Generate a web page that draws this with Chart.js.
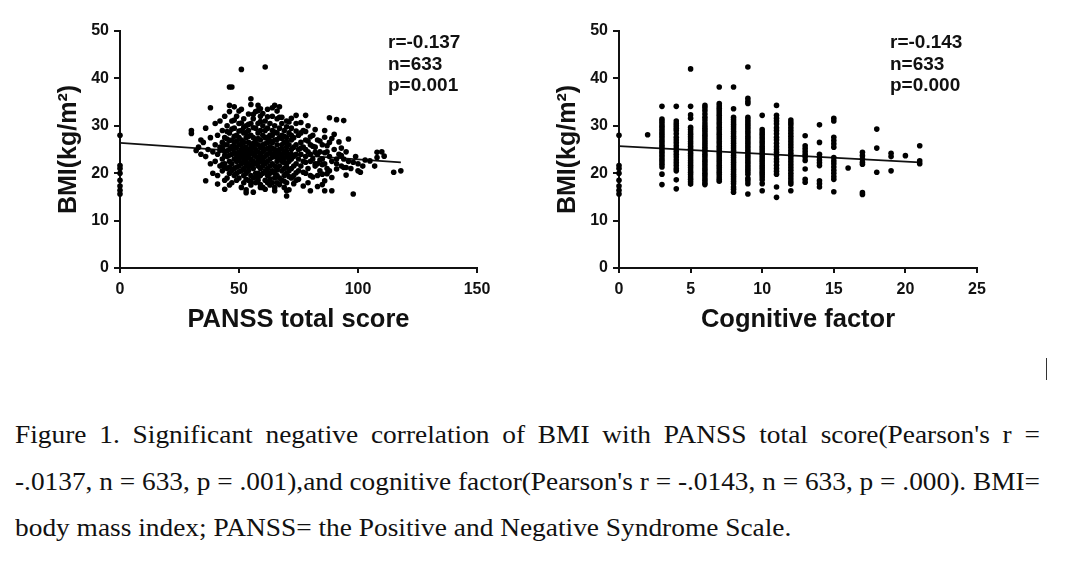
<!DOCTYPE html>
<html>
<head>
<meta charset="utf-8">
<script src="https://cdn.jsdelivr.net/npm/chart.js@4.4.0/dist/chart.umd.min.js"></script>
<style>
    body {
        margin: 0;
        width: 1080px;
        height: 569px;
        background: #fff;
        position: relative;
        overflow: hidden;
        font-family: "Liberation Sans", Arial, sans-serif;
    }
    .boxChart { position: absolute; top: 0; }
    .stats {
        position: absolute;
        top: 31px;
        font-weight: bold;
        font-size: 19px;
        line-height: 21.7px;
        color: #111;
    }
    .caption {
        position: absolute;
        left: 15px;
        width: 936px;
        font-family: "Liberation Serif", "Times New Roman", serif;
        font-size: 25px;
        line-height: 30px;
        color: #111;
        white-space: nowrap;
        transform: scaleX(1.095);
        transform-origin: left top;
    }
    .just { text-align: justify; text-align-last: justify; white-space: normal; }
    #linhaDois { width: auto; transform: none; }
    .cursor { position: absolute; left: 1046px; top: 358px; width: 1px; height: 22px; background: #333; }
</style>
</head>
<body>

<canvas class="boxChart" id="graficoPanss" width="540" height="340" style="left:0"></canvas>
<canvas class="boxChart" id="graficoCog" width="540" height="340" style="left:540px"></canvas>

<div class="stats" style="left:388px">r=-0.137<br>n=633<br>p=0.001</div>
<div class="stats" style="left:890px">r=-0.143<br>n=633<br>p=0.000</div>

<div class="cursor"></div>

<div class="caption just" style="top:420px">Figure 1. Significant negative correlation of BMI with PANSS total score(Pearson's r =</div>
<div class="caption" id="linhaDois" style="top:467px">-.0137, n = 633, p = .001),and cognitive factor(Pearson's r = -.0143, n = 633, p = .000). BMI=</div>
<div class="caption" style="top:513px">body mass index; PANSS= the Positive and Negative Syndrome Scale.</div>

<script>
// Grafico 1: BMI x PANSS total score
const panssScore = [
    0, 0, 0, 0, 0, 0, 0, 0,
    51, 61, 46, 47, 55, 58, 59, 46, 38, 65,
    74, 78, 88, 91, 94, 30, 30, 32, 36, 41,
    44, 53, 59, 70, 70, 80, 86, 89, 98, 118,
    115, 108, 108, 107, 101, 98, 95, 93, 94, 91,
    89, 85, 86, 82, 83, 103, 110, 111, 100, 105,
    33, 34, 34, 35, 36, 36, 37, 38, 38, 39,
    39, 40, 40, 40, 41, 41, 41, 42, 42, 42,
    43, 43, 43, 43, 44, 44, 44, 44, 44, 45,
    45, 45, 45, 45, 46, 46, 46, 46, 46, 46,
    47, 47, 47, 47, 47, 47, 48, 48, 48, 48,
    48, 48, 49, 49, 49, 49, 49, 49, 49, 50,
    50, 50, 50, 50, 50, 50, 51, 51, 51, 51,
    51, 51, 51, 51, 52, 52, 52, 52, 52, 52,
    52, 52, 53, 53, 53, 53, 53, 53, 53, 53,
    54, 54, 54, 54, 54, 54, 54, 54, 55, 55,
    55, 55, 55, 55, 55, 55, 55, 56, 56, 56,
    56, 56, 56, 56, 56, 57, 57, 57, 57, 57,
    57, 57, 57, 58, 58, 58, 58, 58, 58, 58,
    58, 59, 59, 59, 59, 59, 59, 59, 59, 60,
    60, 60, 60, 60, 60, 60, 60, 61, 61, 61,
    61, 61, 61, 61, 62, 62, 62, 62, 62, 62,
    62, 62, 63, 63, 63, 63, 63, 63, 63, 63,
    64, 64, 64, 64, 64, 64, 64, 65, 65, 65,
    65, 65, 65, 65, 65, 66, 66, 66, 66, 66,
    66, 66, 66, 67, 67, 67, 67, 67, 67, 67,
    68, 68, 68, 68, 68, 68, 68, 69, 69, 69,
    69, 69, 69, 69, 70, 70, 70, 70, 70, 70,
    70, 71, 71, 71, 71, 71, 71, 72, 72, 72,
    72, 72, 72, 73, 73, 73, 73, 73, 74, 74,
    74, 74, 74, 75, 75, 75, 75, 76, 76, 76,
    77, 77, 77, 78, 78, 78, 79, 79, 79, 80,
    80, 80, 81, 81, 82, 82, 83, 83, 84, 84,
    85, 85, 86, 86, 87, 87, 88, 88, 89, 90,
    91, 92, 93, 94, 95, 96, 97, 99, 100, 102,
    42, 43, 44, 45, 46, 47, 48, 49, 50, 51,
    52, 53, 54, 55, 56, 57, 58, 59, 60, 61,
    62, 63, 64, 65, 66, 67, 68, 69, 70, 71,
    44, 46, 48, 50, 52, 54, 56, 58, 60, 62,
    64, 66, 68, 70, 72, 45, 49, 53, 57, 61,
    65, 69, 43, 47, 51, 55, 59, 63, 67, 71,
    76, 78, 80, 82, 84, 86, 88, 90, 92, 96,
    77, 79, 81, 83, 85, 87, 89, 91, 93, 95,
    44, 46, 48, 50, 52, 54, 56, 58, 60, 62,
    64, 66, 68, 70, 72, 74, 76, 78, 45, 47,
    49, 51, 53, 55, 57, 59, 61, 63, 65, 67,
    69, 71, 73, 75, 77, 79, 81, 83, 85, 87,
    50, 54, 58, 62, 66, 70, 74, 78, 82, 86,
    48, 52, 56, 60, 64, 68, 72, 76, 80, 84
];
const panssBmi = [
    28.0, 21.6, 21.0, 20.0, 18.5, 17.3, 16.4, 15.6,
    41.9, 42.4, 38.2, 38.2, 35.7, 34.3, 33.6, 34.3, 33.8, 34.3,
    32.2, 32.2, 31.7, 31.3, 31.1, 29.0, 28.4, 24.8, 18.4, 17.7,
    16.6, 15.9, 17.0, 15.2, 16.3, 16.3, 16.3, 16.3, 15.6, 20.5,
    20.2, 24.4, 23.3, 21.5, 20.2, 22.3, 21.2, 23.7, 21.2, 20.9,
    19.1, 19.8, 18.4, 22.0, 24.0, 22.8, 24.5, 23.6, 20.5, 22.6,
    25.5, 27.0, 24.0, 26.5, 23.5, 29.5, 25.0, 22.0, 27.5, 24.5,
    20.0, 30.5, 26.0, 22.5, 28.0, 24.0, 19.5, 31.0, 25.5, 21.5,
    29.0, 26.5, 23.0, 20.5, 32.0, 27.5, 24.5, 22.0, 18.5, 30.0,
    26.0, 23.5, 21.0, 19.0, 33.0, 28.5, 25.0, 22.5, 20.0, 17.5,
    31.0, 27.0, 24.0, 22.0, 20.5, 18.0, 29.5, 26.5, 23.0, 21.0,
    19.5, 34.0, 32.0, 28.0, 25.5, 24.0, 22.5, 20.0, 18.5, 30.5,
    27.5, 26.0, 24.5, 23.0, 21.5, 19.0, 33.5, 29.0, 27.0, 25.0,
    23.5, 22.0, 20.5, 17.0, 31.5, 28.5, 26.5, 24.0, 22.5, 21.0,
    19.5, 18.0, 30.0, 27.5, 25.5, 24.5, 23.0, 21.5, 20.0, 16.5,
    32.5, 29.0, 26.5, 25.0, 23.5, 22.0, 20.5, 18.5, 34.5, 30.5,
    28.0, 26.0, 24.5, 23.0, 21.5, 19.5, 17.5, 31.5, 27.5, 25.5,
    24.0, 22.5, 21.0, 19.0, 16.0, 33.0, 29.5, 27.0, 25.0, 23.5,
    22.0, 20.0, 18.0, 30.5, 28.5, 26.0, 24.5, 23.0, 21.5, 20.0,
    18.5, 32.0, 29.0, 27.0, 25.5, 24.0, 22.5, 21.0, 19.5, 30.0,
    28.0, 26.0, 24.5, 23.0, 21.5, 20.0, 17.0, 31.0, 27.5, 25.0,
    23.5, 22.0, 20.5, 18.5, 33.5, 29.5, 26.5, 24.0, 22.5, 21.0,
    19.5, 18.0, 30.5, 28.0, 25.5, 24.5, 23.0, 21.5, 20.0, 17.5,
    32.0, 29.0, 26.5, 24.0, 22.0, 20.5, 18.0, 30.0, 27.0, 25.0,
    23.5, 21.5, 20.0, 19.0, 17.0, 31.5, 28.5, 26.0, 24.5, 22.5,
    21.0, 19.5, 18.0, 34.0, 29.5, 27.5, 25.0, 23.0, 21.5, 19.0,
    30.5, 28.0, 26.0, 24.0, 22.5, 20.5, 18.5, 29.0, 26.5, 24.5,
    23.0, 21.0, 19.5, 17.0, 31.0, 27.5, 25.5, 23.5, 22.0, 20.0,
    18.0, 28.5, 26.0, 24.0, 22.5, 20.5, 16.5, 29.5, 27.0, 25.0,
    23.0, 21.0, 19.0, 27.5, 25.5, 23.5, 21.5, 19.5, 30.5, 26.0,
    24.0, 22.0, 18.5, 28.0, 25.0, 23.0, 20.5, 26.5, 24.0, 21.5,
    29.0, 25.5, 22.5, 27.0, 23.5, 20.0, 30.0, 24.5, 21.0, 26.0,
    22.5, 19.5, 28.0, 23.0, 25.5, 21.5, 27.0, 22.0, 24.5, 20.5,
    26.0, 23.0, 29.0, 22.0, 24.5, 21.0, 26.5, 23.5, 22.5, 25.0,
    22.0, 24.0, 21.5, 23.0, 24.5, 22.5, 21.0, 23.5, 22.0, 21.5,
    24.8, 25.2, 26.0, 27.2, 23.8, 25.6, 24.3, 26.8, 22.8, 24.2,
    25.3, 28.6, 23.9, 25.1, 26.3, 24.4, 27.3, 23.6, 25.3, 26.2,
    25.2, 26.6, 23.4, 24.3, 27.1, 24.1, 25.1, 22.2, 24.6, 23.3,
    21.2, 21.3, 25.4, 28.9, 23.2, 27.8, 29.6, 22.3, 22.3, 27.6,
    25.3, 23.6, 27.3, 26.6, 24.0, 28.8, 21.3, 22.3, 26.2, 29.0,
    28.7, 27.8, 21.8, 29.3, 30.6, 22.9, 30.9, 26.9, 31.8, 30.8,
    28.5, 25.0, 24.0, 29.2, 26.8, 24.3, 20.5, 28.2, 26.6, 27.2,
    20.2, 26.8, 25.7, 19.5, 21.8, 25.8, 27.3, 23.0, 25.3, 19.6,
    23.7, 26.9, 31.2, 33.1, 29.7, 30.3, 32.4, 33.2, 32.6, 31.9,
    33.8, 33.1, 31.8, 29.8, 31.6, 28.9, 30.7, 28.8, 24.7, 25.3,
    23.3, 26.1, 18.7, 18.1, 19.2, 17.6, 16.6, 18.8, 16.3, 17.6,
    18.3, 19.3, 17.8, 18.7, 17.3, 18.0, 19.2, 17.2, 17.6, 19.9,
    20.3, 21.4, 19.1, 20.2, 20.7, 21.3, 20.1, 22.3, 24.4, 27.6,
    27.8, 20.8, 22.0, 25.8, 28.0, 23.2, 28.0, 25.3, 27.7, 22.8
];
// reta de regressao (extremos)
const panssFitX = [0, 118];
const panssFitY = [26.4, 22.3];

// Grafico 2: BMI x Cognitive factor (escores inteiros, colunas)
const cogLevels = [0, 2, 3, 4, 5, 6, 7, 8, 9, 10, 11, 12, 13, 14, 15, 16, 17, 18, 19, 20, 21];
const cogBmi = [
    [28.0, 21.6, 21.0, 20.0, 18.5, 17.3, 16.4, 15.6],
    [28.1],
    [34.1, 31.4, 30.9, 30.4, 29.9, 29.4, 28.9, 28.4, 27.9, 27.4, 26.9, 26.4, 25.9, 25.4, 24.9, 24.4, 23.9, 23.4, 22.9, 22.4, 21.9, 21.3, 19.8, 17.6],
    [34.1, 31.0, 30.5, 30.0, 29.5, 29.0, 28.3, 27.6, 27.0, 26.4, 25.8, 25.2, 24.6, 24.0, 23.4, 22.8, 22.2, 21.6, 21.0, 20.5, 18.6, 16.7],
    [42.0, 34.1, 32.3, 31.6, 29.7, 29.2, 28.7, 28.2, 27.7, 27.2, 26.7, 26.2, 25.7, 25.2, 24.7, 24.2, 23.7, 23.2, 22.7, 22.2, 21.7, 21.2, 20.7, 20.2, 19.7, 19.2, 18.7, 18.2, 17.7],
    [34.3, 33.8, 33.2, 32.5, 31.8, 31.2, 30.6, 30.0, 29.5, 29.0, 28.5, 28.0, 27.5, 27.0, 26.5, 26.0, 25.5, 25.0, 24.5, 24.0, 23.5, 23.0, 22.5, 22.0, 21.5, 21.0, 20.5, 20.0, 19.5, 19.0, 18.5, 18.0, 17.6],
    [38.2, 34.7, 34.2, 33.7, 33.2, 32.7, 32.2, 31.7, 31.2, 30.7, 30.2, 29.7, 29.2, 28.7, 28.2, 27.7, 27.2, 26.7, 26.2, 25.7, 25.2, 24.7, 24.2, 23.7, 23.2, 22.7, 22.2, 21.7, 21.2, 20.7, 20.2, 19.7, 19.2, 18.7, 18.3],
    [38.2, 33.6, 31.8, 31.3, 30.8, 30.3, 29.8, 29.3, 28.8, 28.3, 27.8, 27.3, 26.8, 26.3, 25.8, 25.3, 24.8, 24.3, 23.8, 23.3, 22.8, 22.3, 21.8, 21.3, 20.8, 20.3, 19.8, 19.3, 18.8, 18.3, 17.8, 17.1, 16.6, 16.0],
    [42.4, 35.8, 35.2, 34.7, 31.8, 31.3, 30.8, 30.3, 29.8, 29.3, 28.8, 28.3, 27.8, 27.3, 26.8, 26.3, 25.8, 25.3, 24.8, 24.3, 23.8, 23.3, 22.8, 22.3, 21.8, 21.3, 20.8, 20.3, 19.8, 18.9, 18.4, 17.8, 15.6],
    [32.2, 29.2, 28.7, 28.2, 27.7, 27.2, 26.7, 26.2, 25.7, 25.2, 24.7, 24.2, 23.7, 23.2, 22.7, 22.2, 21.7, 21.2, 20.7, 20.2, 19.7, 19.2, 18.6, 17.8, 16.3],
    [34.3, 32.2, 31.6, 31.0, 30.4, 29.6, 29.0, 28.3, 27.6, 27.0, 26.3, 25.6, 25.0, 24.4, 23.7, 23.0, 22.4, 21.7, 21.0, 20.4, 19.8, 17.1, 14.9],
    [31.2, 30.7, 30.2, 29.6, 29.0, 28.4, 27.8, 27.2, 26.6, 26.0, 25.4, 24.8, 24.2, 23.6, 23.0, 22.4, 21.8, 21.2, 20.6, 20.0, 19.4, 18.8, 18.2, 17.7, 16.3],
    [27.9, 25.8, 25.2, 24.6, 24.0, 23.4, 22.7, 20.9, 18.7, 18.1],
    [30.2, 26.5, 24.0, 23.4, 22.8, 22.2, 21.6, 18.4, 17.8, 17.1],
    [31.6, 31.0, 27.6, 26.9, 26.2, 25.5, 23.3, 22.6, 22.0, 21.3, 20.6, 20.0, 19.3, 18.7, 16.1],
    [21.1],
    [24.4, 23.7, 23.0, 22.3, 21.9, 15.9, 15.5],
    [29.3, 25.3, 20.2],
    [24.2, 23.5, 20.5],
    [23.7],
    [25.8, 22.6, 22.0]
];
const cogFitX = [0, 21];
const cogFitY = [25.7, 22.3];

const fonteEixo = "'Liberation Sans', Arial, sans-serif";

function criarGrafico(idCanvas, pontos, fitX, fitY, xMax, xStep, tituloX, padLeft, padRight) {
    const ctx = document.getElementById(idCanvas);
    const reta = fitX.map((x, i) => ({ x: x, y: fitY[i] }));

    return new Chart(ctx, {
        type: 'scatter',
        data: {
            datasets: [{
                data: pontos,
                backgroundColor: '#000',
                borderWidth: 0,
                pointRadius: 2.8,
                clip: false
            }, {
                type: 'line',
                data: reta,
                borderColor: '#111',
                borderWidth: 1.8,
                pointRadius: 0,
                fill: false,
                clip: false
            }]
        },
        options: {
            responsive: false,
            devicePixelRatio: 1,
            animation: false,
            layout: { padding: { left: padLeft, right: padRight, top: 31, bottom: 0 } },
            plugins: {
                legend: { display: false },
                tooltip: { enabled: false }
            },
            scales: {
                x: {
                    type: 'linear',
                    min: 0,
                    max: xMax,
                    ticks: {
                        stepSize: xStep,
                        color: '#111',
                        padding: 7,
                        font: { family: fonteEixo, weight: 'bold', size: 16 }
                    },
                    border: { display: true, color: '#111', width: 2 },
                    grid: { display: true, drawOnChartArea: false, drawTicks: true, tickLength: 5, color: '#111', lineWidth: 2 },
                    title: {
                        display: true,
                        text: tituloX,
                        color: '#111',
                        padding: { top: 0, bottom: 5 },
                        font: { family: fonteEixo, weight: 'bold', size: 25.5 }
                    },
                    afterFit: (eixo) => { eixo.height = 72; }
                },
                y: {
                    min: 0,
                    max: 50,
                    ticks: {
                        stepSize: 10,
                        color: '#111',
                        padding: 5,
                        font: { family: fonteEixo, weight: 'bold', size: 16 }
                    },
                    border: { display: true, color: '#111', width: 2 },
                    grid: { display: true, drawOnChartArea: false, drawTicks: true, tickLength: 6, color: '#111', lineWidth: 2 },
                    title: {
                        display: true,
                        text: 'BMI(kg/m²)',
                        color: '#111',
                        padding: { top: 14, bottom: 0 },
                        font: { family: fonteEixo, weight: 'bold', size: 25 }
                    },
                    afterFit: (eixo) => { eixo.width = 80; }
                }
            }
        }
    });
}

const pontosPanss = panssScore.map((x, i) => ({ x: x, y: panssBmi[i] }));
const pontosCog = [];
cogLevels.forEach((nivel, i) => {
    cogBmi[i].forEach((bmi) => pontosCog.push({ x: nivel, y: bmi }));
});

criarGrafico('graficoPanss', pontosPanss, panssFitX, panssFitY, 150, 50, 'PANSS total score', 40, 63);
criarGrafico('graficoCog', pontosCog, cogFitX, cogFitY, 25, 5, 'Cognitive factor', -1, 103);

// segunda linha da legenda: encaixar na largura do texto justificado (1025px)
const linhaDois = document.getElementById('linhaDois');
const larguraNatural = linhaDois.getBoundingClientRect().width;
linhaDois.style.transform = `scaleX(${1025 / larguraNatural})`;
</script>
</body>
</html>
